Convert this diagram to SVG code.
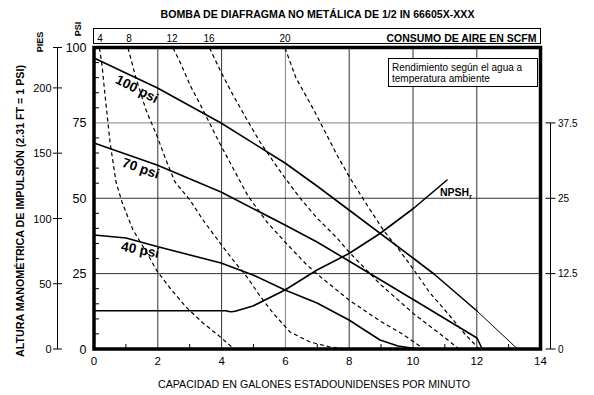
<svg xmlns="http://www.w3.org/2000/svg" width="594" height="395" viewBox="0 0 594 395">
<style>
text{font-family:"Liberation Sans",Arial,Helvetica,sans-serif;fill:#000}
.b{font-weight:bold}
.grid{stroke:#333;stroke-width:1;fill:none}
.gridl{stroke:#808080;stroke-width:1;fill:none}
.tick{stroke:#000;stroke-width:1;fill:none}
.perf{stroke:#000;stroke-width:1.6;fill:none;stroke-linejoin:round;stroke-linecap:round}
.thin{stroke:#000;stroke-width:1;fill:none}
.air{stroke:#000;stroke-width:1.2;fill:none;stroke-dasharray:4 3}
.ax{font-size:11.5px;text-anchor:middle}
.psi{font-size:12.5px;text-anchor:end}
.ft{font-size:11px;text-anchor:end}
.rt{font-size:10px}
.cl{font-size:13.5px;font-weight:bold;text-anchor:middle}
</style>
<rect width="594" height="395" fill="#fff"/>
<text class="b" x="317.5" y="18" font-size="10.5" text-anchor="middle" textLength="314" lengthAdjust="spacingAndGlyphs">BOMBA DE DIAFRAGMA NO METÁLICA DE 1/2 IN 66605X-XXX</text>
<g id="air-scale">
<rect x="93.5" y="28.5" width="447" height="15" fill="#fff" stroke="#000" stroke-width="1"/>
<g font-size="10" text-anchor="middle">
<text x="100" y="41.5">4</text>
<text x="129" y="41.5">8</text>
<text x="172" y="41.5">12</text>
<text x="209" y="41.5">16</text>
<text x="285" y="41.5">20</text>
</g>
<text class="b" x="536.5" y="41.5" font-size="10.5" text-anchor="end">CONSUMO DE AIRE EN SCFM</text>
</g>
<g id="grid">
<path class="grid" d="M157.8,47.5V349M221.6,47.5V349M349.2,47.5V349M413,47.5V349M476.8,47.5V349"/>
<path class="gridl" d="M285.4,47.5V349M94,122.9H540.5"/>
<path class="grid" d="M94,198.25H540.5M94,273.6H540.5"/>
<path class="tick" d="M94,333.9h5M94,318.9h5M94,303.8h5M94,288.7h5M94,258.6h5M94,243.5h5M94,228.4h5M94,213.3h5M94,183.2h5M94,168.1h5M94,153h5M94,137.95h5M94,107.8h5M94,92.7h5M94,77.65h5M94,62.6h5"/>
<path class="tick" d="M125.9,349v-5M189.7,349v-5M253.5,349v-5M317.3,349v-5M381,349v-5M444.8,349v-5M508.6,349v-5"/>
</g>
<g id="legend">
<rect x="388.5" y="58.5" width="149" height="28" fill="#fff" stroke="#000" stroke-width="1"/>
<text x="392" y="70.5" font-size="10">Rendimiento según el agua a</text>
<text x="392" y="82" font-size="10">temperatura ambiente</text>
</g>
<g id="connectors">
<g id="air-curves">
<path class="air" d="M99.5,48 L102,65 L105,95 L110,142 L116,182 L122,202 L133,230 L147,253 L157,271 L170,288 L186,307 L203,323 L218,335 L233,348"/>
<path class="air" d="M128,48 L136,78 L146,110 L157,136 L166,160 L175,182 L190,200 L203,220 L220,243 L233,260 L247,277 L260,296 L273,313 L290,332 L310,342 L330,347 L347,349"/>
<path class="air" d="M173,48 L180,62 L190,85 L203,110 L219,142 L234,170 L248,196 L267,222 L285,242 L306,264 L317,274 L349,300 L380,321 L404,335 L424,349"/>
<path class="air" d="M209.5,48 L221,72 L233,95 L246,118 L260,142 L273,161 L285,178 L300,198 L317,218 L337,238 L349,252 L380,284 L414,314 L444,337 L459,349"/>
<path class="air" d="M285,48 L296,78 L310,103 L317,116 L337,155 L350,178 L367,205 L384,231 L397,247 L414,270 L430,293 L450,316 L464,333 L479,349"/>
</g>
<g id="psi-curves">
<path id="c100" class="perf" d="M94,58 L157.5,88 L221,123 L285,163 L317,186 L349,210 L413,258 L434,274 L477,311"/>
<path class="thin" d="M477,311 L517,348.5"/>
<path id="c70" class="perf" d="M94,143 L157,165 L221,192 L285,225 L317,242 L349,261 L414,300 L477,338 L482,348.5"/>
<path id="c40" class="perf" d="M94,235 L126,238 L157,246.5 L221,263 L253,275 L285,290 L317,303 L349,320 L380,340 L398,346 L418,349"/>
<path id="npsh" class="perf" d="M94,310.7 L226,310.7 Q231,312.5 236,311 L253,306 L285,290 L317,270 L349,253.5 L380,233.5 L414,208 L427,197 L447,180"/>
</g>
</g>
<g id="curve-labels">
<text class="cl" transform="translate(135,93) rotate(27)">100 psi</text>
<text class="cl" transform="translate(139.4,172.6) rotate(19)">70 psi</text>
<text class="cl" transform="translate(139.4,254.2) rotate(11)">40 psi</text>
<text class="b" x="440" y="196" font-size="10.5">NPSH<tspan font-size="7" dy="2.5">r</tspan></text>
</g>
<rect id="frame" x="94" y="47.5" width="446.5" height="301.5" fill="none" stroke="#000" stroke-width="3.5"/>
<g id="x-axis">
<text class="ax" x="94" y="365">0</text>
<text class="ax" x="157.8" y="365">2</text>
<text class="ax" x="221.6" y="365">4</text>
<text class="ax" x="285.4" y="365">6</text>
<text class="ax" x="349.2" y="365">8</text>
<text class="ax" x="413" y="365">10</text>
<text class="ax" x="476.8" y="365">12</text>
<text class="ax" x="540.5" y="365">14</text>
<text x="314" y="388" font-size="10.5" text-anchor="middle" textLength="312" lengthAdjust="spacingAndGlyphs">CAPACIDAD EN GALONES ESTADOUNIDENSES POR MINUTO</text>
</g>
<g id="psi-axis">
<text class="psi" x="86.5" y="52">100</text>
<text class="psi" x="86.5" y="127.4">75</text>
<text class="psi" x="86.5" y="202.7">50</text>
<text class="psi" x="86.5" y="278">25</text>
<text class="psi" x="86.5" y="353.5">0</text>
<text class="b" transform="translate(81,29) rotate(-90)" font-size="9" text-anchor="middle">PSI</text>
</g>
<g id="feet-axis">
<path class="tick" d="M57.5,47.5V349M53,47.5h9M53,87.9h9M53,153.2h9M53,218.5h9M53,283.7h9M53,349h9"/>
<text class="ft" x="51.5" y="91.9">200</text>
<text class="ft" x="51.5" y="157.2">150</text>
<text class="ft" x="51.5" y="222.5">100</text>
<text class="ft" x="51.5" y="287.7">50</text>
<text class="ft" x="51.5" y="353">0</text>
<text class="b" transform="translate(42.5,42) rotate(-90)" font-size="9" text-anchor="middle">PIES</text>
<text class="b" transform="translate(24,211) rotate(-90)" font-size="10.5" text-anchor="middle" textLength="292" lengthAdjust="spacingAndGlyphs">ALTURA MANOMÉTRICA DE IMPULSIÓN (2.31 FT = 1 PSI)</text>
</g>
<g id="right-axis">
<path class="tick" d="M550.5,122.9V349M545.5,122.9h10M545.5,198.25h10M545.5,273.6h10M545.5,349h10"/>
<text class="rt" x="558" y="126.5">37.5</text>
<text class="rt" x="558" y="201.8">25</text>
<text class="rt" x="558" y="277.2">12.5</text>
<text class="rt" x="558" y="352.6">0</text>
</g>
</svg>
